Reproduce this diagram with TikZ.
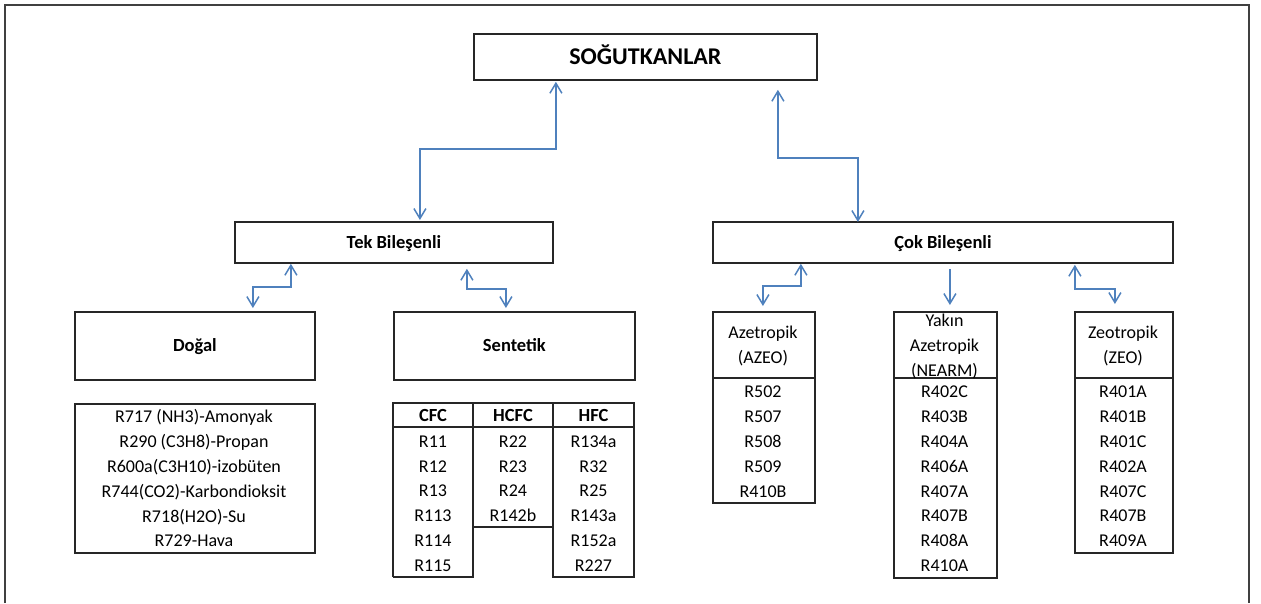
\documentclass[tikz,border=0pt]{standalone}
\usepackage{fontspec}
\setmainfont{Carlito}
\usetikzlibrary{arrows.meta,calc}
\definecolor{arrblue}{RGB}{79,129,189}
\definecolor{boxline}{RGB}{38,38,38}
\definecolor{frameline}{RGB}{64,64,64}
\begin{document}
\begin{tikzpicture}[x=1pt,y=-1pt,
  box/.style={draw=boxline, line width=1.8pt, inner sep=0pt, anchor=north west},
  lin/.style={draw=boxline, line width=1.8pt},
  item/.style={inner sep=0pt, font=\fontsize{18}{22}\selectfont, text height=11.6pt, text depth=0pt},
  hdr/.style={inner sep=0pt, font=\fontsize{18.5}{22}\selectfont\bfseries, text height=11.9pt, text depth=0pt},
  barr/.style={draw=arrblue, line width=1.5pt, {Straight Barb[length=10pt,width=12pt]}-{Straight Barb[length=10pt,width=12pt]}},
  sarr/.style={draw=arrblue, line width=1.5pt, -{Straight Barb[length=10pt,width=12pt]}}
]
\useasboundingbox (0,0) rectangle (1261,603);
% outer frame (top, left, right)
\draw[frameline, line width=2pt] (5,603) -- (5,5) -- (1249,5) -- (1249,603);

% main boxes
\node[box, minimum width=343pt, minimum height=46pt, font=\fontsize{24}{28}\selectfont\bfseries, text height=15.5pt, text depth=0pt] (sog) at (473,33) {SOĞUTKANLAR};
\node[box, hdr, minimum width=318pt, minimum height=41pt] (tek) at (234,221) {Tek Bileşenli};
\node[box, hdr, minimum width=460pt, minimum height=41pt] (cok) at (712,221) {Çok Bileşenli};
\node[box, hdr, minimum width=240pt, minimum height=68pt] (dogal) at (74,311) {Doğal};
\node[box, hdr, minimum width=241pt, minimum height=68pt] (sent) at (393,311) {Sentetik};

% Doğal list
\node[box, minimum width=240pt, minimum height=149pt] (dlist) at (74,403) {};
\foreach \t [count=\i from 0] in {R717 (NH3)-Amonyak, R290 (C3H8)-Propan, R600a(C3H10)-izobüten, R744(CO2)-Karbondioksit, R718(H2O)-Su, R729-Hava}
  \node[item] (dg\i) at (194,{417+24.8*\i}) {\t};

% Sentetik table
\draw[lin] (393,577) -- (393,403) -- (634,403) -- (634,577) -- (553,577) -- (553,403);
\draw[lin] (393,577) -- (473,577) -- (473,403);
\draw[lin] (393,427) -- (634,427);
\draw[lin] (473,527) -- (553,527);
\node[hdr] (tcfc) at (433,416) {CFC};
\node[hdr] (thcfc) at (513,416) {HCFC};
\node[hdr] (thfc) at (593.5,416) {HFC};
\foreach \t [count=\i from 0] in {R11,R12,R13,R113,R114,R115}
  \node[item] (cfc\i) at (433,{441.5+24.8*\i}) {\t};
\foreach \t [count=\i from 0] in {R22,R23,R24,R142b}
  \node[item] (hcfc\i) at (513,{441.5+24.8*\i}) {\t};
\foreach \t [count=\i from 0] in {R134a,R32,R25,R143a,R152a,R227}
  \node[item] (hfc\i) at (593.5,{441.5+24.8*\i}) {\t};

% Çok bileşenli sub-boxes
\node[box, minimum width=102pt, minimum height=191pt] (azeo) at (712,311) {};
\draw[lin] (712,378) -- (814,378);
\node[item] (azh1) at (763,333) {Azetropik};
\node[item] (azh2) at (763,358) {(AZEO)};
\foreach \t [count=\i from 0] in {R502,R507,R508,R509,R410B}
  \node[item] (az\i) at (763,{392+24.8*\i}) {\t};

\node[box, minimum width=103pt, minimum height=266pt] (nearm) at (893,311) {};
\draw[lin] (893,378) -- (996,378);
\node[item] (nh1) at (944.5,321) {Yakın};
\node[item] (nh2) at (944.5,346) {Azetropik};
\node[item] (nh3) at (944.5,371) {(NEARM)};
\foreach \t [count=\i from 0] in {R402C,R403B,R404A,R406A,R407A,R407B,R408A,R410A}
  \node[item] (nr\i) at (944.5,{392+24.8*\i}) {\t};

\node[box, minimum width=98pt, minimum height=241pt] (zeo) at (1074,311) {};
\draw[lin] (1074,378) -- (1172,378);
\node[item] (zh1) at (1123,333) {Zeotropik};
\node[item] (zh2) at (1123,358) {(ZEO)};
\foreach \t [count=\i from 0] in {R401A,R401B,R401C,R402A,R407C,R407B,R409A}
  \node[item] (ze\i) at (1123,{392+24.8*\i}) {\t};

% connectors
\draw[barr] ([xshift=-89.5pt,yshift=-1pt]sog.south) -- ++(0,67) -| ([xshift=26pt,yshift=1pt]tek.north);
\draw[barr] ([xshift=132.5pt,yshift=-9pt]sog.south) -- ++(0,68) -| ([xshift=-85pt,yshift=-1pt]cok.north);
\draw[barr] ([xshift=-103pt]tek.south) -- ++(0,23) -| ([xshift=58pt,yshift=3pt]dogal.north);
\draw[barr] ([xshift=73pt,yshift=-5pt]tek.south) -- ++(0,20) -| ([xshift=-8.5pt,yshift=3pt]sent.north);
\draw[barr] ([xshift=-142pt]cok.south) -- ++(0,22) -| ([xshift=-1pt,yshift=5pt]azeo.north);
\draw[sarr] ([xshift=7pt,yshift=-5pt]cok.south) -- ([xshift=4.5pt,yshift=6pt]nearm.north);
\draw[barr] ([xshift=132pt,yshift=-1pt]cok.south) -- ++(0,24) -| ([xshift=-9pt,yshift=7pt]zeo.north);
\end{tikzpicture}
\end{document}
